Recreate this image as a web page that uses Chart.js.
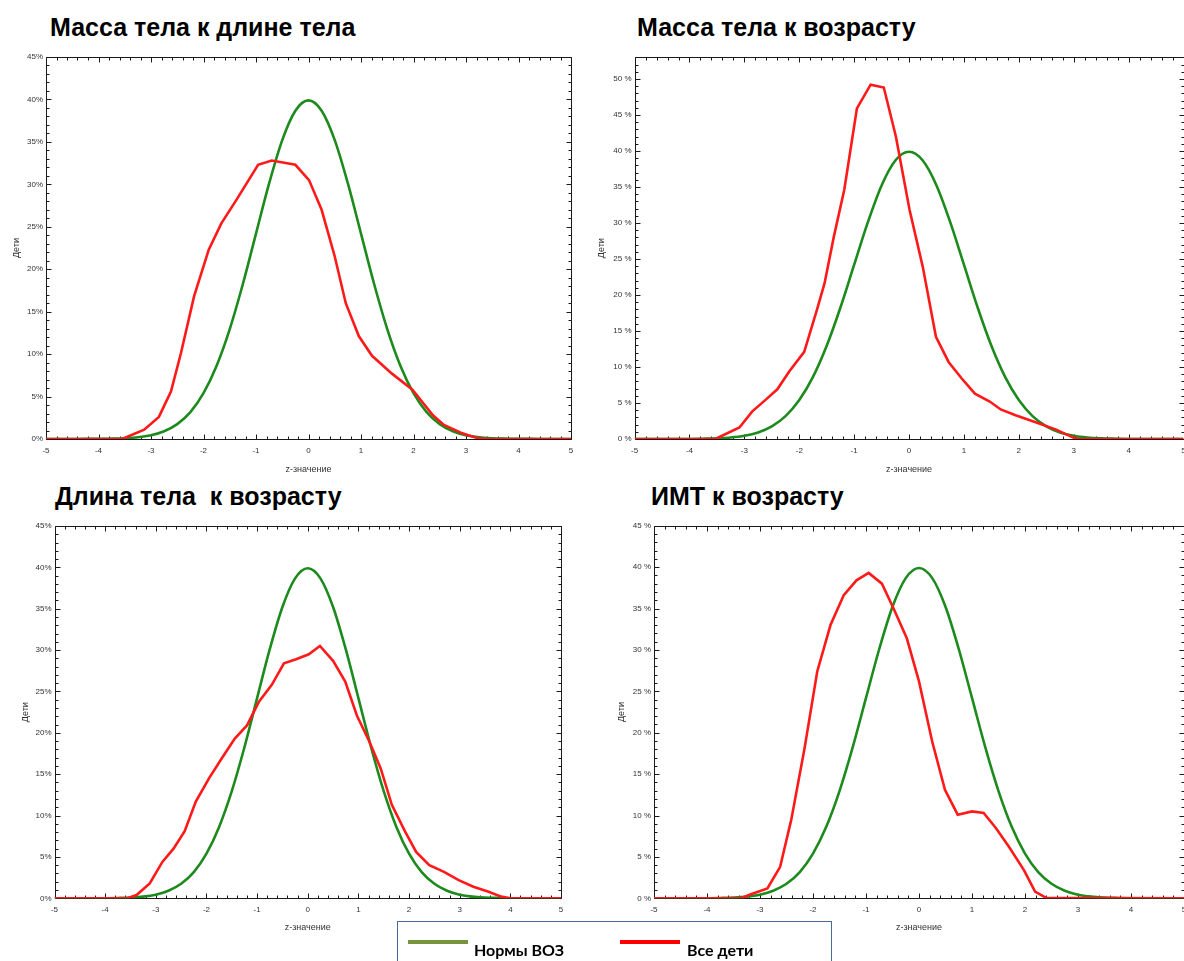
<!DOCTYPE html>
<html>
<head>
<meta charset="utf-8">
<script src="https://cdn.jsdelivr.net/npm/chart.js@4.4.1/dist/chart.umd.min.js"></script>
<style>
  body { margin: 0; width: 1184px; height: 961px; overflow: hidden; background: #fff; position: relative;
         font-family: "Liberation Sans", Arial, sans-serif; }
  .title { position: absolute; font-weight: bold; font-size: 25px; line-height: 25px; color: #000; white-space: pre; }
  canvas { position: absolute; }
  #legend { position: absolute; left: 397px; top: 921px; width: 435px; height: 60px;
            border: 1.5px solid #4a6a94; box-sizing: border-box; }
  #legend .sw { position: absolute; height: 4px; top: 18px; width: 60px; }
  #legend .lbl { position: absolute; top: 18px; font-family: Lato, "Noto Sans", sans-serif; font-weight: bold;
                 font-size: 16px; line-height: 20px; color: #000; }
</style>
</head>
<body>
<div class="title" style="left:50px;top:15px">Масса тела к длине тела</div>
<div class="title" style="left:637px;top:15px">Масса тела к возрасту</div>
<div class="title" style="left:55px;top:484px">Длина тела  к возрасту</div>
<div class="title" style="left:651px;top:484px">ИМТ к возрасту</div>

<canvas id="c1"></canvas>
<canvas id="c2"></canvas>
<canvas id="c3"></canvas>
<canvas id="c4"></canvas>

<div id="legend">
  <div class="sw" style="left:10px;background:#77933c"></div>
  <div class="lbl" style="left:76px">Нормы ВОЗ</div>
  <div class="sw" style="left:222px;background:#ff0000"></div>
  <div class="lbl" style="left:289px">Все дети</div>
</div>

<script>
// WHO standard curve (same in every panel), % of children per z
const whoZ = [-5, -4.75, -4.5, -4.25, -4, -3.75, -3.5, -3.25, -3, -2.75, -2.5, -2.25, -2, -1.75, -1.5, -1.25, -1, -0.75, -0.5, -0.25,
              0, 0.25, 0.5, 0.75, 1, 1.25, 1.5, 1.75, 2, 2.25, 2.5, 2.75, 3, 3.25, 3.5, 3.75, 4, 4.25, 4.5, 4.75, 5];
const whoPct = [0, 0, 0, 0.01, 0.01, 0.04, 0.09, 0.2, 0.44, 0.91, 1.75, 3.17, 5.4, 8.63, 12.95, 18.26, 24.2, 30.11, 35.21, 38.67,
                39.89, 38.67, 35.21, 30.11, 24.2, 18.26, 12.95, 8.63, 5.4, 3.17, 1.75, 0.91, 0.44, 0.2, 0.09, 0.04, 0.01, 0.01, 0, 0, 0];

// all children: weight-for-length
const wflZ = [-5, -3.55, -3.13, -2.85, -2.62, -2.43, -2.18, -1.9, -1.66, -1.37, -0.96, -0.7, -0.25, 0.01, 0.25, 0.5, 0.71,
              0.96, 1.21, 1.59, 1.98, 2.37, 2.58, 2.93, 3.22, 3.4, 5];
const wflPct = [0, 0, 1.1, 2.6, 5.6, 10.1, 16.8, 22.3, 25.4, 28.2, 32.3, 32.8, 32.3, 30.5, 27.0, 21.5, 16.0,
                12.1, 9.8, 7.7, 5.8, 2.8, 1.65, 0.67, 0.1, 0, 0];

// weight-for-age
const wfaZ = [-5, -3.53, -3.09, -2.86, -2.62, -2.4, -2.18, -1.91, -1.68, -1.54, -1.37, -1.18, -0.95, -0.7, -0.46, -0.24,
              0.01, 0.25, 0.49, 0.72, 0.96, 1.2, 1.47, 1.67, 1.94, 2.28, 2.68, 2.99, 3.1, 5];
const wfaPct = [0, 0, 1.6, 3.8, 5.4, 6.9, 9.4, 12.1, 17.9, 21.6, 28.1, 34.6, 45.9, 49.2, 48.8, 42.0,
                31.8, 23.9, 14.2, 10.7, 8.4, 6.3, 5.2, 4.1, 3.3, 2.4, 1.3, 0.2, 0, 0];

// length-for-age
const lfaZ = [-5, -3.56, -3.38, -3.12, -2.87, -2.65, -2.43, -2.21, -1.95, -1.7, -1.44, -1.2, -0.96, -0.71, -0.47, -0.23, 0.02,
              0.24, 0.5, 0.74, 0.97, 1.22, 1.44, 1.66, 1.92, 2.14, 2.4, 2.69, 2.98, 3.27, 3.57, 3.82, 4.0, 5];
const lfaPct = [0, 0, 0.4, 1.8, 4.4, 6.0, 8.1, 11.7, 14.5, 16.9, 19.3, 20.9, 23.8, 25.8, 28.4, 28.9, 29.5,
                30.5, 28.7, 26.2, 22.1, 18.9, 15.7, 11.3, 8.1, 5.6, 4.0, 3.2, 2.2, 1.4, 0.8, 0.2, 0, 0];

// BMI-for-age
const bmiZ = [-5, -3.35, -3.21, -2.86, -2.62, -2.41, -2.16, -1.92, -1.67, -1.42, -1.18, -0.95, -0.7, -0.48, -0.23, 0.0,
              0.25, 0.49, 0.73, 1.0, 1.22, 1.45, 1.7, 1.98, 2.19, 2.4, 5];
const bmiPct = [0, 0, 0.4, 1.2, 3.8, 9.5, 18.1, 27.4, 33.0, 36.6, 38.4, 39.3, 38.0, 35.0, 31.4, 26.2,
                18.9, 13.1, 10.1, 10.5, 10.3, 8.5, 6.2, 3.4, 0.8, 0.05, 0];

const xTicks = [-5, -4, -3, -2, -1, 0, 1, 2, 3, 4, 5];

const toPoints = (xs, ys) => xs.map((x, i) => ({ x: x, y: ys[i] }));

// inward ticks on all four sides + frame, drawn under the curves
const framePlugin = {
  id: 'frame',
  beforeDatasetsDraw(chart) {
    const { ctx, chartArea: a, scales: { x, y } } = chart;
    const l = Math.round(a.left) + 0.5, r = Math.round(a.right) + 0.5;
    const t = Math.round(a.top) + 0.5, b = Math.round(a.bottom) + 0.5;
    ctx.save();
    ctx.strokeStyle = '#1a1a1a';
    ctx.lineWidth = 1;
    ctx.beginPath();
    ctx.rect(l, t, r - l, b - t);
    for (let i = 0; i <= 50; i++) {
      const px = Math.round(x.getPixelForValue(-5 + i * 0.2)) + 0.5;
      const len = i % 5 === 0 ? 5 : 3;
      ctx.moveTo(px, b); ctx.lineTo(px, b - len);
      ctx.moveTo(px, t); ctx.lineTo(px, t + len);
    }
    for (let v = 0; v <= y.max + 0.001; v++) {
      const py = Math.round(y.getPixelForValue(v)) + 0.5;
      const len = v % 5 === 0 ? 5 : 3;
      ctx.moveTo(l, py); ctx.lineTo(l + len, py);
      ctx.moveTo(r, py); ctx.lineTo(r - len, py);
    }
    ctx.stroke();
    ctx.restore();
  }
};

function makePanel(id, redZ, redPct, box) {
  const yw = 44, pr = 10, pt = 10, xh = 40;
  const cl = Math.floor(box.L - yw), ct = Math.floor(box.T - pt);
  const width = Math.ceil(box.R + pr - cl), height = Math.ceil(box.B + xh - ct);
  const canvas = document.getElementById(id);
  canvas.width = width; canvas.height = height;
  canvas.style.left = cl + 'px'; canvas.style.top = ct + 'px';

  new Chart(canvas, {
    type: 'line',
    data: {
      datasets: [
        { label: 'Все дети', data: toPoints(redZ, redPct), borderColor: '#ff1a1a', borderWidth: 2.6,
          pointRadius: 0, tension: 0, fill: false },
        { label: 'Нормы ВОЗ', data: toPoints(whoZ, whoPct), borderColor: '#1d8a1d', borderWidth: 2.6,
          pointRadius: 0, cubicInterpolationMode: 'monotone', fill: false }
      ]
    },
    options: {
      responsive: false,
      animation: false,
      layout: { padding: { left: box.L - yw - cl, right: width - (box.R - cl), top: box.T - ct, bottom: height - (box.B + xh - ct) } },
      plugins: { legend: { display: false }, tooltip: { enabled: false } },
      scales: {
        x: {
          type: 'linear', min: -5, max: 5,
          afterFit: (s) => { s.height = xh; },
          afterBuildTicks: (s) => { s.ticks = xTicks.map(v => ({ value: v })); },
          grid: { display: false, drawTicks: false },
          border: { display: false },
          ticks: { font: { size: 8, family: 'Liberation Sans' }, color: '#333', padding: 7, maxRotation: 0,
                   autoSkip: false, callback: (v) => String(v) },
          title: { display: true, text: 'z-значение', color: '#333', font: { size: 9, family: 'Liberation Sans' },
                   padding: { top: 0, bottom: (box.B + xh) - box.xTitleY - 5.4 } }
        },
        y: {
          min: 0, max: box.yMax,
          afterFit: (s) => { s.width = yw; },
          grid: { display: false, drawTicks: false },
          border: { display: false },
          ticks: { stepSize: 5, includeBounds: false, font: { size: 8, family: 'Liberation Sans' }, color: '#333',
                   padding: 3, callback: (v) => v + box.suffix },
          title: { display: true, text: 'Дети', color: '#333', font: { size: 9, family: 'Liberation Sans' },
                   padding: { top: (box.yTitleX - cl) - (box.L - yw - cl) - 5.4, bottom: 0 } }
        }
      }
    },
    plugins: [framePlugin]
  });
}

makePanel('c1', wflZ, wflPct, { L: 46, R: 571, T: 57, B: 439, yMax: 45, suffix: '%', yTitleX: 16.6, xTitleY: 469.3 });
makePanel('c2', wfaZ, wfaPct, { L: 634.6, R: 1183.5, T: 57.3, B: 439, yMax: 53, suffix: ' %', yTitleX: 602, xTitleY: 469.3 });
makePanel('c3', lfaZ, lfaPct, { L: 54.5, R: 561, T: 526, B: 898.3, yMax: 45, suffix: '%', yTitleX: 26, xTitleY: 927.3 });
makePanel('c4', bmiZ, bmiPct, { L: 654, R: 1184, T: 525.7, B: 898.3, yMax: 45, suffix: ' %', yTitleX: 621.6, xTitleY: 927.3 });
</script>
</body>
</html>
